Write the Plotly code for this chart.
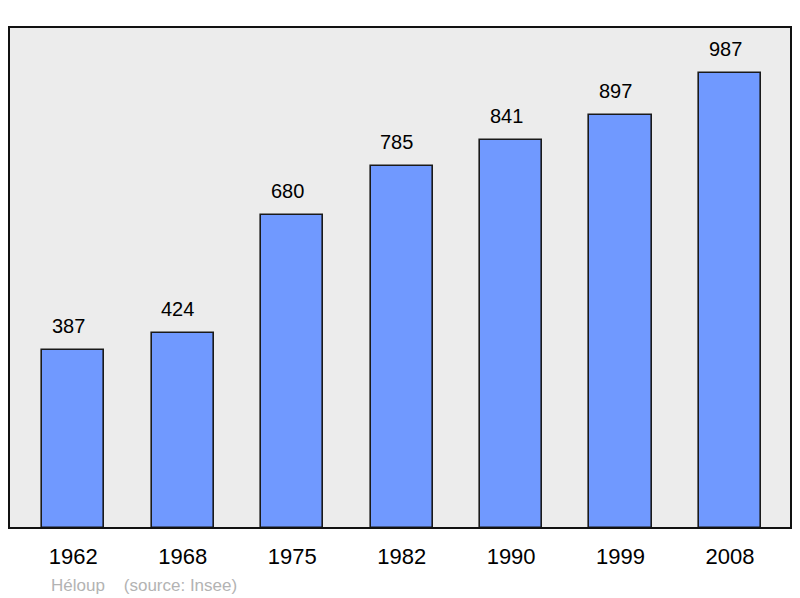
import plotly.graph_objects as go

years = ["1962", "1968", "1975", "1982", "1990", "1999", "2008"]
population = [387, 424, 680, 785, 841, 897, 987]
footer_text = "Héloup\u00a0\u00a0\u00a0\u00a0(source: Insee)"

idx = list(range(len(years)))
FONT = "Liberation Sans, Arial, sans-serif"

# page has an 8px body margin; plot area should land at page x 9..791, y 27..528
L, R, T, B = 1, 17, 19, 78
W, H = 800, 598
PW, PH = W - L - R, H - T - B

fig = go.Figure()
fig.add_trace(go.Bar(
    x=idx, y=population, width=0.568,
    marker=dict(color="#7099ff", line=dict(color="#1a1a1a", width=1.6)),
    hoverinfo="skip",
))

for i, v in zip(idx, population):
    fig.add_annotation(x=i, y=v, text=str(v), showarrow=False,
                       yanchor="bottom", yshift=11, xshift=-5,
                       font=dict(family=FONT, size=20, color="#000000"))

# footer at page (49, 585) -> figure (41, 577)
fig.add_annotation(x=(41 - L) / PW, y=(PH + T - 577) / PH, xref="paper", yref="paper",
                   text=footer_text, showarrow=False, xanchor="left", yanchor="middle",
                   font=dict(family=FONT, size=17, color="#b3b3b3"))

fig.add_shape(type="rect", xref="paper", yref="paper", x0=0, y0=0, x1=1, y1=1,
              line=dict(color="#111111", width=2), layer="above")

fig.update_layout(
    width=W, height=H,
    margin=dict(l=L, r=R, t=T, b=B),
    paper_bgcolor="#ffffff", plot_bgcolor="#ececec",
    showlegend=False,
    bargap=0,
    xaxis=dict(range=[-0.5875, 6.557], tickmode="array", tickvals=idx, ticktext=years,
               showgrid=False, zeroline=False, showline=False,
               ticks="outside", ticklen=9, tickcolor="rgba(0,0,0,0)",
               tickfont=dict(family=FONT, size=22, color="#000000"), fixedrange=True),
    yaxis=dict(range=[0, 1086.8], showgrid=False, zeroline=False, showline=False,
               showticklabels=False, fixedrange=True),
)

fig.write_html("out.html")
